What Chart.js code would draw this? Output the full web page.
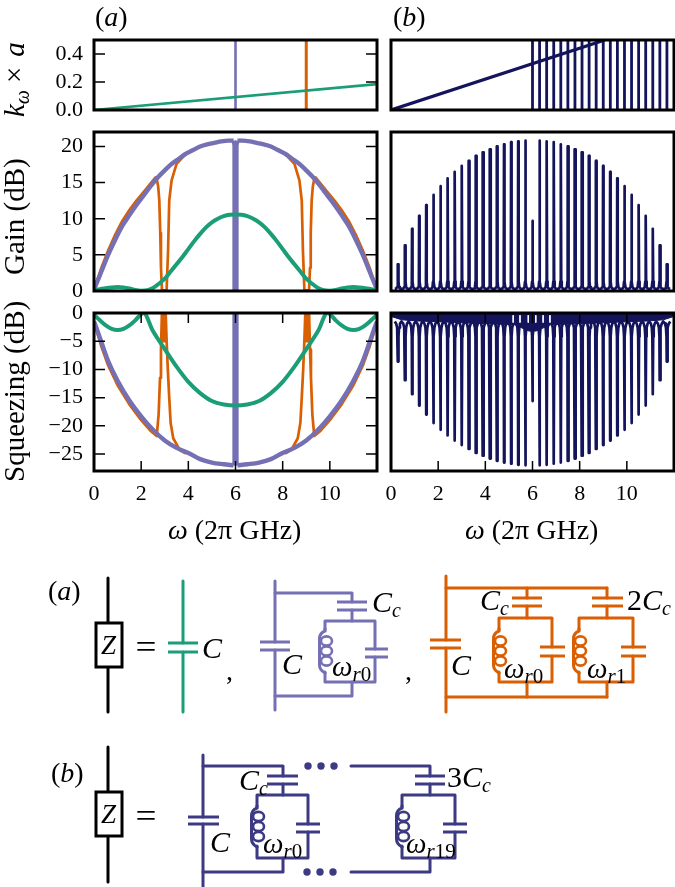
<!DOCTYPE html>
<html>
<head>
<meta charset="utf-8">
<script src="https://cdn.jsdelivr.net/npm/chart.js@4"></script>
<style>
html,body{margin:0;padding:0;background:#fff;width:675px;height:887px;overflow:hidden}
canvas,svg{position:absolute;display:block}
svg{left:0;top:0;pointer-events:none}
</style>
</head>
<body>
<canvas id="topA" style="left:0;top:30px" width="385" height="90"></canvas>
<canvas id="gainA" style="left:0;top:122px" width="385" height="180"></canvas>
<canvas id="squeezeA" style="left:0;top:302px" width="385" height="210"></canvas>
<canvas id="topB" style="left:380px;top:30px" width="295" height="90"></canvas>
<canvas id="gainB" style="left:380px;top:122px" width="295" height="180"></canvas>
<canvas id="squeezeB" style="left:380px;top:302px" width="295" height="210"></canvas>
<svg id="art" width="675" height="887" xmlns="http://www.w3.org/2000/svg"></svg>
<script>
// ---------- values ----------
const xTickValues = [0,2,4,6,8,10];
const kTickValues = [0,0.2,0.4];
const gainTickValues = [0,5,10,15,20];
const squeezeTickValues = [0,-5,-10,-15,-20,-25];

// panel (a), top
const greenKX = [0,12];
const greenKY = [0,0.185];
const purpleResonanceX = [6,6];
const orangeResonanceX = [9,9];
const resonanceY = [0,0.5];

// panel (a), gain
const greenGainX = [0,0.25,0.5,0.75,1,1.25,1.5,1.75,2,2.25,2.5,2.75,3,3.25,3.5,3.75,4,4.25,4.5,4.75,5,5.25,5.5,5.75,6,6.25,6.5,6.75,7,7.25,7.5,7.75,8,8.25,8.5,8.75,9,9.25,9.5,9.75,10,10.25,10.5,10.75,11,11.25,11.5,11.75,12];
const greenGainY = [0.1,0.25,0.4,0.5,0.55,0.5,0.35,0.15,0.05,0.1,0.4,1,1.7,2.7,3.7,4.7,5.8,6.9,7.9,8.8,9.5,10,10.35,10.55,10.6,10.55,10.35,10,9.5,8.8,7.9,6.9,5.8,4.7,3.7,2.7,1.7,1,0.4,0.1,0.05,0.15,0.35,0.5,0.55,0.5,0.4,0.25,0.1];
const purpleGainX = [0,0.15,0.3,0.6,0.9,1.2,1.5,1.8,2.1,2.4,2.7,3,3.3,3.6,3.9,4.2,4.5,4.8,5.1,5.4,5.7,5.92,5.96,5.96,6.04,6.04,6.08,6.3,6.6,6.9,7.2,7.5,7.8,8.1,8.4,8.7,9,9.3,9.6,9.9,10.2,10.5,10.8,11.1,11.4,11.7,11.85,12];
const purpleGainY = [0.2,1.4,2.6,5,7.1,9,10.5,11.9,13.2,14.5,15.7,16.7,17.6,18.3,19,19.5,20,20.3,20.5,20.7,20.8,20.8,20.2,0,0,20.2,20.8,20.8,20.7,20.5,20.3,20,19.5,19,18.3,17.6,16.7,15.7,14.5,13.2,11.9,10.5,9,7.1,5,2.6,1.4,0.2];
const orangeGainX = [0,0.15,0.3,0.6,0.9,1.2,1.5,1.8,2.1,2.4,2.6,2.66,2.72,2.77,2.81,2.84,2.88,2.92,2.96,3,3.04,3.08,3.14,3.19,3.29,3.5,3.79,4,6,8,8.21,8.5,8.71,8.81,8.86,8.92,8.96,9,9.04,9.08,9.12,9.16,9.19,9.23,9.28,9.34,9.4,9.6,9.9,10.2,10.5,10.8,11.1,11.4,11.7,11.85,12];
const orangeGainY = [0.2,1.6,3.1,5.6,7.8,9.7,11.2,12.5,13.7,14.9,15.7,15.5,14.5,12.5,8,3.2,0.2,0.1,0.1,0.1,0.1,0.2,5.5,12.5,15.3,17.6,18.6,19.2,null,19.2,18.6,17.6,15.3,12.5,5.5,0.2,0.1,0.1,0.1,0.1,0.2,3.2,8,12.5,14.5,15.5,15.7,14.9,13.7,12.5,11.2,9.7,7.8,5.6,3.1,1.6,0.2];

// panel (a), squeezing
const greenSqueezeX = [0,0.25,0.5,0.75,1,1.25,1.5,1.75,2,2.1,2.5,3,3.5,4,4.5,5,5.5,6,6.5,7,7.5,8,8.5,9,9.5,9.9,10,10.25,10.5,10.75,11,11.25,11.5,11.75,12];
const greenSqueezeY = [-0.3,-1.3,-2.2,-2.8,-3,-2.8,-2.2,-1.3,-0.2,0,-3.2,-6.4,-9.5,-12.2,-14.2,-15.6,-16.2,-16.4,-16.2,-15.6,-14.2,-12.2,-9.5,-6.4,-3.2,0,-0.2,-1.3,-2.2,-2.8,-3,-2.8,-2.2,-1.3,-0.3];
const purpleSqueezeX = [0,0.15,0.3,0.6,1,1.5,2,2.5,3,3.5,4,4.5,5,5.5,5.92,5.96,5.96,6.04,6.04,6.08,6.5,7,7.5,8,8.5,9,9.5,10,10.5,11,11.4,11.7,11.85,12];
const purpleSqueezeY = [-1.5,-3.2,-5,-8.5,-12,-15.5,-18.3,-20.7,-22.6,-23.9,-24.8,-25.9,-26.5,-26.8,-27,-26.4,0,0,-26.4,-27,-26.8,-26.5,-25.9,-24.8,-23.9,-22.6,-20.7,-18.3,-15.5,-12,-8.5,-5,-3.2,-1.5];
const orangeSqueezeX = [0,0.15,0.3,0.6,1,1.5,2,2.4,2.66,2.74,2.8,2.84,2.88,2.92,2.96,3,3.04,3.08,3.13,3.19,3.25,3.36,3.64,3.9,6,8.1,8.36,8.64,8.75,8.81,8.87,8.92,8.96,9,9.04,9.08,9.12,9.16,9.2,9.26,9.34,9.6,10,10.5,11,11.4,11.7,11.85,12];
const orangeSqueezeY = [-1.5,-3.7,-5.8,-9.3,-12.8,-16.2,-19,-20.9,-21.8,-18,-11.5,-6.5,0,-5,0,-5,0,-5,-10,-15,-19.5,-22.2,-24.3,-24.9,null,-24.9,-24.3,-22.2,-19.5,-15,-10,-5,0,-5,0,-5,0,-6.5,-11.5,-18,-21.8,-20.9,-19,-16.2,-12.8,-9.3,-5.8,-3.7,-1.5];

// panel (b): every resonance seen as a spike
const ladderX = [6,6.3,6.6,6.9,7.2,7.5,7.8,8.1,8.4,8.7,9,9.3,9.6,9.9,10.2,10.5,10.8,11.1,11.4,11.7];
const navyKX = [0,9.07];
const navyKY = [0,0.5];
const spikeX = [0.3,0.6,0.9,1.2,1.5,1.8,2.1,2.4,2.7,3,3.3,3.6,3.9,4.2,4.5,4.8,5.1,5.4,5.7,6,6.3,6.6,6.9,7.2,7.5,7.8,8.1,8.4,8.7,9,9.3,9.6,9.9,10.2,10.5,10.8,11.1,11.4,11.7];
const spikeGain = [3.7,6.3,8.6,10.4,11.9,13.3,14.5,15.6,16.5,17.3,18,18.7,19.2,19.6,20,20.3,20.6,20.7,20.8,9.7,20.8,20.7,20.6,20.3,20,19.6,19.2,18.7,18,17.3,16.5,15.6,14.5,13.3,11.9,10.4,8.6,6.3,3.7];
const spikeSqueeze = [-8.6,-11.9,-14.4,-16.4,-18,-19.5,-20.7,-21.7,-22.6,-23.4,-24.1,-24.8,-25.3,-25.8,-26.2,-26.5,-26.7,-26.9,-27,-15.6,-27,-26.9,-26.7,-26.5,-26.2,-25.8,-25.3,-24.8,-24.1,-23.4,-22.6,-21.7,-20.7,-19.5,-18,-16.4,-14.4,-11.9,-8.6];
const flareOffset = [-0.14,-0.08,-0.04,-0.018,-0.008,0.008,0.018,0.04,0.08,0.14];
const flareGain = [0.3,0.35,0.55,1.3,null,null,1.3,0.55,0.35,0.3];
const flareSqueeze = [-1.5,-1.9,-2.6,-4.2,null,null,-4.2,-2.6,-1.9,-1.5];
const bandX = [0,0.45,1.05,1.65,2.25,2.85,3.45,4.05,4.65,5.25,5.85,6.15,6.75,7.35,7.95,8.55,9.15,9.75,10.35,10.95,11.55,12];
const bandY = [-0.6,-1.2,-1.4,-1.5,-1.6,-1.7,-1.8,-1.9,-2,-2.1,-3.2,-3.2,-2.1,-2,-1.9,-1.8,-1.7,-1.6,-1.5,-1.4,-1.2,-0.6];
const slitX = [5.18,5.47,5.82,6.14,6.45,6.74];
const slitY = [-0.4,-1.7];

// ---------- colours ----------
const GREEN='#1b9e77', ORANGE='#d95f02', PURPLE='#7570b3', NAVY='#14145c', WIRE='#3c3a82';

// ---------- helpers ----------
const zip = (xs,ys) => xs.map((x,i)=>({x,y:ys[i]}));
const line = (xs,ys,color,width,extra) => Object.assign({data:zip(xs,ys),borderColor:color,borderWidth:width,pointRadius:0,fill:false,tension:0,spanGaps:false,borderJoinStyle:'round'},extra||{});
const smooth = (xs,ys,color,width) => line(xs,ys,color,width,{cubicInterpolationMode:'monotone'});
const part = (xs,ys,from,to,color,width,curved) => (curved?smooth:line)(xs.slice(from,to),ys.slice(from,to),color,width);
const gapped = (xs,ys) => xs.flatMap(x=>ys.map(y=>({x,y})).concat([{x,y:null}]));
const spikes = (heights,flare) => spikeX.flatMap((x,i)=>flareOffset.map((d,j)=>({x:+(x+d).toFixed(3),y:flare[j]===null?heights[i]:flare[j]})));
const noPad = s => {s.paddingTop=s.paddingBottom=s.paddingLeft=s.paddingRight=0;};

const frameTicks = (xMarks,yMarks) => ({
  id:'frameTicks',
  afterDatasetsDraw(chart){
    const {ctx,chartArea:a,scales:{x,y}} = chart;
    ctx.save();
    ctx.strokeStyle='#000';
    ctx.lineWidth=1.5;
    ctx.beginPath();
    xMarks.forEach(v=>{const p=x.getPixelForValue(v);ctx.moveTo(p,a.top);ctx.lineTo(p,a.top+10);ctx.moveTo(p,a.bottom);ctx.lineTo(p,a.bottom-10);});
    yMarks.forEach(v=>{const p=y.getPixelForValue(v);ctx.moveTo(a.left,p);ctx.lineTo(a.left+11,p);ctx.moveTo(a.right,p);ctx.lineTo(a.right-11,p);});
    ctx.stroke();
    ctx.lineWidth=3;
    ctx.strokeRect(a.left,a.top,a.right-a.left,a.bottom-a.top);
    ctx.restore();
  }
});
Chart.defaults.font.family = "'Liberation Serif', serif";

function panel(id,datasets,cfg){
  return new Chart(document.getElementById(id),{
    type:'line',
    data:{datasets},
    plugins:[frameTicks(cfg.markX||[],cfg.showY?cfg.yTicks:[])],
    options:{
      responsive:false,animation:false,
      layout:{autoPadding:false,padding:{top:cfg.top,right:cfg.right,left:0,bottom:0}},
      plugins:{legend:{display:false},tooltip:{enabled:false}},
      scales:{
        x:{type:'linear',min:0,max:12,grid:{display:false,drawTicks:false},border:{display:false},
          afterBuildTicks:s=>{s.ticks=xTickValues.map(v=>({value:v}));},
          afterFit:s=>{s.height=cfg.bottom;noPad(s);},
          ticks:{display:!!cfg.xLabels,autoSkip:false,maxRotation:0,padding:10,color:'#000',font:{size:22}}},
        y:{type:'linear',min:cfg.min,max:cfg.max,grid:{display:false,drawTicks:false},border:{display:false},
          afterBuildTicks:s=>{s.ticks=(cfg.yTicks||[]).map(v=>({value:v}));},
          afterFit:s=>{s.width=cfg.leftW;noPad(s);},
          ticks:{display:!!cfg.showY,autoSkip:false,padding:11,color:'#000',font:{size:22},
            callback:v=>{const t=cfg.fmt?cfg.fmt(v):String(v);return t.replace('-','\u2212');}}}
      }
    }
  });
}
const L={right:8,leftW:94}, R={right:1,leftW:11};

panel('topA',[
  line(greenKX,greenKY,GREEN,2.6),
  line(purpleResonanceX,resonanceY,PURPLE,2.6),
  line(orangeResonanceX,resonanceY,ORANGE,3)
],{...L,top:10,bottom:10,min:0,max:0.5,yTicks:kTickValues,showY:true,fmt:v=>v.toFixed(1)});

panel('gainA',[
  smooth(greenGainX,greenGainY,GREEN,4),
  part(purpleGainX,purpleGainY,0,22,PURPLE,4.4,true),
  part(purpleGainX,purpleGainY,21,27,PURPLE,4.4,false),
  part(purpleGainX,purpleGainY,26,48,PURPLE,4.4,true),
  line(orangeGainX,orangeGainY,ORANGE,2.7)
],{...L,top:10,bottom:11,min:0,max:22,yTicks:gainTickValues,showY:true});

panel('squeezeA',[
  smooth(greenSqueezeX,greenSqueezeY,GREEN,4),
  part(purpleSqueezeX,purpleSqueezeY,0,15,PURPLE,4.4,true),
  part(purpleSqueezeX,purpleSqueezeY,14,20,PURPLE,4.4,false),
  part(purpleSqueezeX,purpleSqueezeY,19,34,PURPLE,4.4,true),
  line(orangeSqueezeX,orangeSqueezeY,ORANGE,2.7)
],{...L,top:11,bottom:41,min:-28,max:0,yTicks:squeezeTickValues,showY:true,xLabels:true,markX:xTickValues.slice(1)});

panel('topB',[
  line(navyKX,navyKY,NAVY,3.2),
  Object.assign(line([],[],NAVY,2.8),{data:gapped(ladderX,resonanceY)})
],{...R,top:10,bottom:10,min:0,max:0.5});

panel('gainB',[
  Object.assign(line([],[],NAVY,2.7),{data:spikes(spikeGain,flareGain)})
],{...R,top:10,bottom:11,min:0,max:22});

panel('squeezeB',[
  Object.assign(line([],[],'#ffffff',1),{data:gapped(slitX,slitY)}),
  Object.assign(line([],[],NAVY,2.7),{data:spikes(spikeSqueeze,flareSqueeze)}),
  line(bandX,bandY,NAVY,1,{fill:{value:0},backgroundColor:NAVY})
],{...R,top:11,bottom:41,min:-28,max:0,xLabels:true,markX:xTickValues.slice(1)});

// ---------- axis titles, panel letters and circuit drawings ----------
let s='';
const F="font-family=\"'Liberation Serif',serif\"";
const w=(x1,y1,x2,y2,c,sw)=>{s+=`<line x1="${x1}" y1="${y1}" x2="${x2}" y2="${y2}" stroke="${c}" stroke-width="${sw||3}" stroke-linecap="round"/>`;};
const poly=(pts,c)=>{s+=`<polyline points="${pts}" fill="none" stroke="${c}" stroke-width="3" stroke-linejoin="round" stroke-linecap="round"/>`;};
const cap=(x1,x2,y1,y2,c)=>{s+=`<line x1="${x1}" y1="${y1}" x2="${x2}" y2="${y1}" stroke="${c}" stroke-width="3"/><line x1="${x1}" y1="${y2}" x2="${x2}" y2="${y2}" stroke="${c}" stroke-width="3"/>`;};
const coil=(x,y1,y2,c)=>{
  const m=(y1+y2)/2;
  s+=`<path d="M${x} ${y1-2} L${x} ${y1+1} Q${x-5.5} ${y1+3} ${x-5.5} ${y1+9} L${x-5.5} ${y2-7} Q${x-5.5} ${y2-2} ${x} ${y2+1} L${x} ${y2+2}" fill="none" stroke="${c}" stroke-width="3"/>`;
  [-10,0,10].forEach(d=>{
    s+=`<ellipse cx="${x+1.5}" cy="${m+d}" rx="5.5" ry="4.6" fill="none" stroke="${c}" stroke-width="2.6"/>`;
  });
};
const t=(x,y,inner,size,extra)=>{s+=`<text x="${x}" y="${y}" ${F} font-size="${size}" fill="#000" ${extra||''}>${inner}</text>`;};
const it=c=>`<tspan font-style="italic">${c}</tspan>`;
const sub=(c,dy,sz)=>`<tspan dy="${dy}" font-size="${sz}" font-style="italic">${c}</tspan>`;
const Cc=(x,y,pre)=>t(x,y,(pre?pre:'')+it('C')+sub('c',5,20),30);
const wr=(x,y,n)=>t(x,y,it('\u03c9')+`<tspan dy="5" font-size="21" font-style="italic">r</tspan><tspan font-size="21">${n}</tspan>`,29);
const Zbox=(top,bot,y1,y2)=>{
  w(108,top,108,bot,'#000');
  s+=`<rect x="96" y="${y1}" width="26" height="${y2-y1}" fill="#fff" stroke="#000" stroke-width="3"/>`;
  t(108.5,(y1+y2)/2+9,it('Z'),27,'text-anchor="middle"');
  t(146,(y1+y2)/2+13,'=',34,'text-anchor="middle" textLength="21" lengthAdjust="spacingAndGlyphs"');
};

// axis titles & letters
t(95,26,'('+it('a')+')',28);
t(393,26,'('+it('b')+')',28);
const rot=(x,y)=>`transform="rotate(-90 ${x} ${y})"`;
s+=`<text x="24" y="117" ${rot(24,117)} ${F} font-size="29" fill="#000">${it('k')}<tspan dy="5" font-size="20" font-style="italic">\u03c9</tspan><tspan dy="-5" dx="7">\u00d7</tspan><tspan dx="10" font-style="italic">a</tspan></text>`;
s+=`<text x="24" y="275" ${rot(24,275)} ${F} font-size="29" fill="#000">Gain (dB)</text>`;
s+=`<text x="24" y="482" ${rot(24,482)} ${F} font-size="29" fill="#000">Squeezing (dB)</text>`;
t(168,539,it('\u03c9')+' (2\u03c0 GHz)',28);
t(465,539,it('\u03c9')+' (2\u03c0 GHz)',28);

// (a) row
t(48,600,'('+it('a')+')',28);
Zbox(578,712,623,667);
w(183,581,183,643,GREEN); w(183,652,183,712,GREEN); cap(168,198,643,652,GREEN);
t(202,658,it('C'),30);
t(226,680,',',28);

// (a) purple
w(275,581,275,642,PURPLE); w(275,650,275,710,PURPLE); cap(260,290,642,650,PURPLE);
poly('275,593 352,593 352,602',PURPLE); cap(337,367,602,610,PURPLE);
poly('352,610 352,621',PURPLE);
poly('325,630 325,621 375,621 375,649',PURPLE); cap(365,388,649,657,PURPLE);
poly('375,657 375,682 325,682 325,672',PURPLE);
coil(325,630,672,PURPLE);
poly('352,682 352,696 275,696',PURPLE);
t(282,674,it('C'),30); Cc(372,612); wr(332,676,'0');
t(405,680,',',28);

// (a) orange
w(446,576,446,640,ORANGE); w(446,648,446,712,ORANGE); cap(430,461,640,648,ORANGE);
poly('446,588 607,588',ORANGE);
poly('446,697 607,697',ORANGE);
[[527,499,552,512,542,540,565],[607,579,633,592,623,621,646]].forEach(r=>{
  poly(`${r[0]},588 ${r[0]},598`,ORANGE); cap(r[3],r[4],598,606,ORANGE);
  poly(`${r[0]},606 ${r[0]},618`,ORANGE);
  poly(`${r[1]},630 ${r[1]},618 ${r[2]},618 ${r[2]},647`,ORANGE); cap(r[5],r[6],647,656,ORANGE);
  poly(`${r[2]},656 ${r[2]},682 ${r[1]},682 ${r[1]},672`,ORANGE);
  coil(r[1],630,672,ORANGE);
  poly(`${r[0]},682 ${r[0]},697`,ORANGE);
});
t(451,675,it('C'),30); Cc(480,610); Cc(627,610,'2'); wr(504,678,'0'); wr(587,678,'1');

// (b) row
t(51,782,'('+it('b')+')',28);
Zbox(747,882,792,836);
w(203,755,203,817,WIRE); w(203,824,203,887,WIRE); cap(188,219,817,824,WIRE);
[[283,257,308,267,298,296,320,203,283],[430,402,455,415,445,443,467,351,430]].forEach(r=>{
  poly(`${r[7]},766 ${r[8]},766 ${r[8]},776`,WIRE); cap(r[3],r[4],776,784,WIRE);
  poly(`${r[0]},784 ${r[0]},795`,WIRE);
  poly(`${r[1]},807 ${r[1]},795 ${r[2]},795 ${r[2]},824`,WIRE); cap(r[5],r[6],824,832,WIRE);
  poly(`${r[2]},832 ${r[2]},858 ${r[1]},858 ${r[1]},846`,WIRE);
  coil(r[1],807,846,WIRE);
  poly(`${r[0]},858 ${r[0]},872 ${r[7]},872`,WIRE);
});
[308,321,334].forEach(x=>{s+=`<circle cx="${x}" cy="766" r="3.7" fill="${WIRE}"/>`;});
[307,320,333].forEach(x=>{s+=`<circle cx="${x}" cy="872" r="3.7" fill="${WIRE}"/>`;});
t(210,852,it('C'),30); Cc(239,790); Cc(447,787,'3'); wr(263,853,'0'); wr(406,853,'19');

document.getElementById('art').innerHTML=s;
</script>
</body>
</html>
